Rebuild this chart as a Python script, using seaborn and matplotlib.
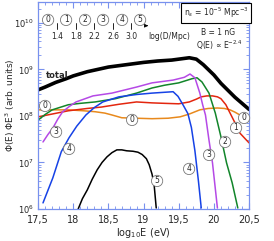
import numpy as np
import pandas as pd
import matplotlib
matplotlib.use("Agg")
import matplotlib.pyplot as plt
import seaborn as sns
from matplotlib.ticker import FixedLocator, MultipleLocator, LogLocator, NullFormatter

# ---- data (log10 E, log10 flux) ----
total_x = [17.5, 17.6, 17.75, 17.9, 18.0, 18.2, 18.5, 18.8, 19.0, 19.2, 19.4, 19.55, 19.65, 19.75, 19.85, 20.0, 20.1, 20.2, 20.3, 20.4, 20.5]
total_y = [8.56, 8.62, 8.72, 8.80, 8.86, 8.95, 9.05, 9.11, 9.15, 9.18, 9.20, 9.23, 9.25, 9.22, 9.10, 8.88, 8.70, 8.55, 8.40, 8.27, 8.14]

c0_x = [17.5, 17.7, 17.93, 18.15, 18.31, 18.45, 18.55, 18.69, 18.9, 19.12, 19.35, 19.52, 19.65, 19.8, 19.92, 20.05, 20.15, 20.23, 20.3, 20.37]
c0_y = [8.13, 8.13, 8.13, 8.11, 8.09, 8.06, 8.02, 7.96, 7.95, 7.94, 7.95, 7.98, 8.04, 8.13, 8.16, 8.17, 8.16, 8.13, 8.08, 8.02]

c1_x = [17.5, 17.7, 17.93, 18.2, 18.4, 18.65, 18.9, 19.12, 19.3, 19.5, 19.65, 19.75, 19.82, 19.9, 19.98, 20.05, 20.1, 20.17, 20.23, 20.3, 20.37, 20.45, 20.5]
c1_y = [7.98, 8.04, 8.11, 8.16, 8.19, 8.25, 8.30, 8.28, 8.27, 8.26, 8.30, 8.36, 8.41, 8.43, 8.43, 8.41, 8.37, 8.24, 8.06, 7.85, 7.63, 7.50, 7.42]

c2_x = [17.5, 17.6, 17.7, 17.93, 18.1, 18.31, 18.6, 18.9, 19.12, 19.3, 19.5, 19.69, 19.76, 19.83, 19.93, 20.02, 20.1, 20.18, 20.26, 20.34]
c2_y = [7.91, 8.03, 8.13, 8.24, 8.27, 8.30, 8.37, 8.49, 8.60, 8.66, 8.71, 8.80, 8.82, 8.73, 8.49, 8.06, 7.55, 6.99, 6.56, 6.02]

c3_x = [17.57, 17.64, 17.71, 17.78, 17.85, 17.95, 18.04, 18.28, 18.55, 18.9, 19.12, 19.42, 19.58, 19.66, 19.73, 19.8, 19.84, 19.88, 19.93, 19.98, 20.05]
c3_y = [7.44, 7.60, 7.74, 7.93, 8.09, 8.21, 8.30, 8.43, 8.49, 8.62, 8.71, 8.77, 8.83, 8.90, 8.82, 8.49, 8.24, 8.02, 7.48, 6.99, 6.02]

c4_x = [17.57, 17.64, 17.71, 17.77, 17.83, 17.94, 18.05, 18.18, 18.3, 18.42, 18.65, 18.9, 19.12, 19.42, 19.49, 19.56, 19.63, 19.68, 19.73, 19.78, 19.82]
c4_y = [6.13, 6.40, 6.67, 6.95, 7.23, 7.53, 7.78, 8.02, 8.18, 8.30, 8.41, 8.46, 8.49, 8.52, 8.42, 8.24, 8.05, 7.75, 7.25, 6.60, 6.02]

c5_x = [18.07, 18.13, 18.2, 18.27, 18.34, 18.41, 18.48, 18.55, 18.62, 18.69, 18.76, 18.85, 18.92, 18.98, 19.04, 19.08, 19.12, 19.15, 19.18]
c5_y = [6.00, 6.22, 6.41, 6.64, 6.84, 7.00, 7.12, 7.21, 7.27, 7.27, 7.25, 7.24, 7.22, 7.17, 7.08, 6.95, 6.75, 6.52, 6.02]

series_names = ["total", "0", "1", "2", "3", "4", "5"]
series_x = [total_x, c0_x, c1_x, c2_x, c3_x, c4_x, c5_x]
series_y = [total_y, c0_y, c1_y, c2_y, c3_y, c4_y, c5_y]
colors = ["#000000", "#e8891c", "#e3260e", "#12852a", "#b549e6", "#1642e6", "#000000"]
widths = [2.6, 1.1, 1.1, 1.1, 1.1, 1.1, 1.1]

x_ticks = [17.5, 18, 18.5, 19, 19.5, 20, 20.5]
x_tick_labels = ["17,5", "18", "18,5", "19", "19,5", "20", "20,5"]
y_ticks = [1e6, 1e7, 1e8, 1e9, 1e10]
y_tick_labels = ["10$^6$", "10$^7$", "10$^8$", "10$^9$", "10$^{10}$"]

dist_labels = ["1.4", "1.8", "2.2", "2.6", "3.0"]
circle_nums = ["0", "1", "2", "3", "4", "5"]

# ---- figure ----
sns.set_theme(style="ticks")
plt.rcParams["font.family"] = ["DejaVu Sans"]
fig = plt.figure(figsize=(2.74, 2.41), dpi=100)
ax = fig.add_axes([0.139, 0.133, 0.770, 0.859])

rows = []
for n, xs, ys in zip(series_names, series_x, series_y):
    for a, b in zip(xs, ys):
        rows.append({"series": n, "logE": a, "flux": 10 ** b})
df = pd.DataFrame(rows)

for n, c, w in zip(series_names, colors, widths):
    sns.lineplot(data=df[df.series == n], x="logE", y="flux", color=c, lw=w, ax=ax, legend=False)

ax.set_yscale("log")
ax.set_xlim(17.5, 20.5)
ax.set_ylim(1e6, 10 ** 10.45)

spine_c = "#7891ee"
for s in ax.spines.values():
    s.set_color(spine_c)
    s.set_linewidth(0.9)
ax.xaxis.set_major_locator(FixedLocator(x_ticks))
ax.set_xticklabels(x_tick_labels)
ax.xaxis.set_minor_locator(MultipleLocator(0.1))
ax.yaxis.set_major_locator(FixedLocator(y_ticks))
ax.set_yticklabels(y_tick_labels)
ax.yaxis.set_minor_locator(LogLocator(base=10, subs=np.arange(2, 10)))
ax.yaxis.set_minor_formatter(NullFormatter())
ax.tick_params(which="both", direction="in", top=True, right=True, color=spine_c)
ax.tick_params(axis="x", pad=4, labelsize=7)
ax.tick_params(axis="y", pad=3, labelsize=6)
ax.tick_params(which="major", length=4, width=0.8)
ax.tick_params(which="minor", length=2, width=0.6)

ax.set_xlabel("log$_{10}$E (eV)", fontsize=7, labelpad=1)
ax.set_ylabel("Φ(E) ΦE$^3$ (arb. units)", fontsize=6.5)
ax.yaxis.set_label_coords(-0.1, 0.5)

# text annotations
ax.text(0.035, 0.643, "total", transform=ax.transAxes, fontsize=6, fontweight="bold", va="center")

circ = dict(boxstyle="circle,pad=0.15", fc="white", ec="#777777", lw=0.6)
def clabel(x, y, t):
    ax.text((x - 38) / 211, (209 - y) / 207, t, transform=ax.transAxes, fontsize=5.5,
            ha="center", va="center", bbox=circ, zorder=5)

for px, t in zip([48, 66, 85, 103, 122, 140], circle_nums):
    clabel(px, 20, t)
for px, t in zip([57, 76, 94, 113, 131], dist_labels):
    xf = (px - 38) / 211
    ax.plot([xf, xf], [0.87, 0.90], transform=ax.transAxes, color="black", lw=0.6)
    ax.text(xf, 0.835, t, transform=ax.transAxes, fontsize=5.5, ha="center", va="center")
ax.annotate("", xy=(0.535, 0.885), xytext=(0.50, 0.885), xycoords="axes fraction",
            arrowprops=dict(arrowstyle="-|>", lw=0.6, color="black", mutation_scale=5))
ax.text(0.52, 0.835, "log(D/Mpc)", transform=ax.transAxes, fontsize=5.5, ha="left", va="center")

ax.text(0.845, 0.947, "n$_s$ = 10$^{-5}$ Mpc$^{-3}$", transform=ax.transAxes, fontsize=5.5,
        ha="center", va="center",
        bbox=dict(boxstyle="square,pad=0.35", fc="white", ec="black", lw=0.8))
ax.text(0.855, 0.852, "B = 1 nG", transform=ax.transAxes, fontsize=5.5, ha="center", va="center")
ax.text(0.86, 0.79, "Q(E) ∝ E$^{-2.4}$", transform=ax.transAxes, fontsize=5.5, ha="center", va="center")

for (px, py, t) in [(45, 106, "0"), (132, 120, "0"), (244, 118, "0"), (236, 128, "1"),
                    (225, 142, "2"), (56, 132, "3"), (209, 155, "3"), (69, 149, "4"),
                    (189, 169, "4"), (157, 181, "5")]:
    clabel(px, py, t)

fig.savefig("out.png", dpi=100)
